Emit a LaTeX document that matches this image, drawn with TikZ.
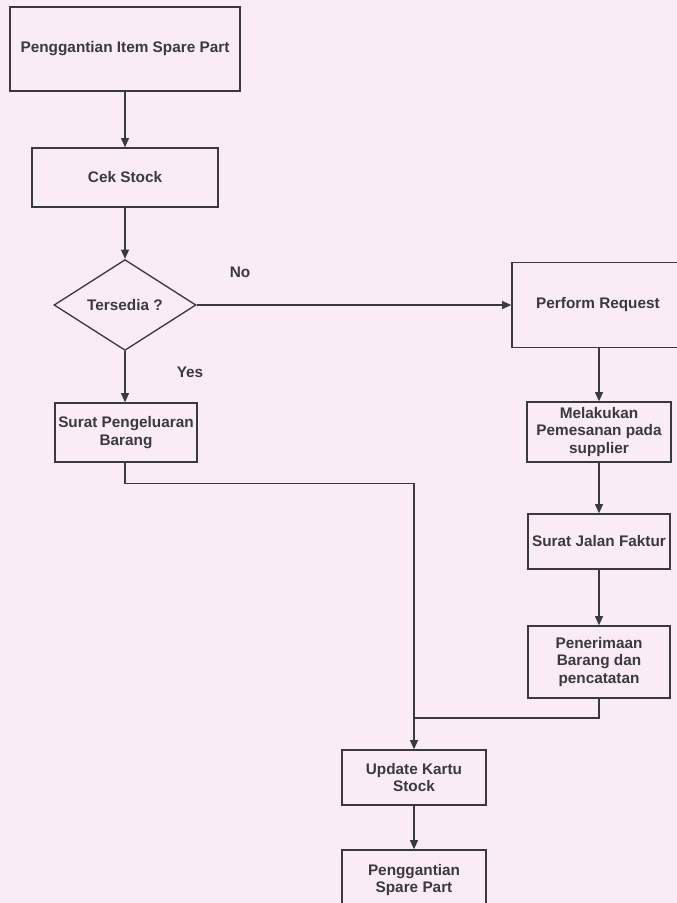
\documentclass[tikz,border=0pt]{standalone}
\usepackage{fontspec}
\setmainfont{Liberation Sans}
\usetikzlibrary{shapes.geometric,arrows.meta}

\definecolor{paper}{RGB}{250,236,247}
\definecolor{ink}{RGB}{58,58,58}

\tikzset{every picture/.style={line width=1pt}}
\tikzset{
  flowbox/.style={draw=ink, rectangle, inner sep=0.75pt, align=center, text=ink,
    font=\fontsize{11.5}{13}\selectfont\bfseries},
  flowlabel/.style={inner sep=0.75pt, text=ink, font=\fontsize{11.5}{13}\selectfont\bfseries},
  flowarrow/.style={draw=ink, -{Triangle[length=7pt,width=6pt]}},
  flowline/.style={draw=ink},
}

\begin{document}
\begin{tikzpicture}[x=0.75pt,y=0.75pt,yscale=-1,xscale=1]
\useasboundingbox (0,0) rectangle (677,903);
\fill[paper] (0,0) rectangle (677,903);
\clip (0,0) rectangle (677,903);

%Shape: Rectangle [id:itemspare]
\node[flowbox, minimum width=172.5pt, minimum height=63pt] (itemspare) at (125,49) {Penggantian Item Spare Part};
%Shape: Rectangle [id:cekstock]
\node[flowbox, minimum width=139.5pt, minimum height=44.25pt] (cekstock) at (125,177.5) {Cek Stock};
%Shape: Diamond [id:tersedia]
\node[flowbox, diamond, minimum width=106.5pt, minimum height=63pt] (tersedia) at (125,305) {Tersedia ?};
%Shape: Rectangle [id:keluar]
\node[flowbox, minimum width=106.5pt, minimum height=44.25pt] (keluar) at (126,432.5) {Surat Pengeluaran\\Barang};
%Shape: Rectangle [id:request]
\node[flowbox, minimum width=129pt, minimum height=63.75pt] (request) at (598,305) {Perform Request};
%Shape: Rectangle [id:pesan]
\node[flowbox, minimum width=108pt, minimum height=45pt] (pesan) at (599,432) {Melakukan\\Pemesanan pada\\supplier};
%Shape: Rectangle [id:faktur]
\node[flowbox, minimum width=106.5pt, minimum height=41.25pt] (faktur) at (599,541.5) {Surat Jalan Faktur};
%Shape: Rectangle [id:terima]
\node[flowbox, minimum width=106.5pt, minimum height=54pt] (terima) at (599,662) {Penerimaan\\Barang dan\\pencatatan};
%Shape: Rectangle [id:update]
\node[flowbox, minimum width=108pt, minimum height=41.25pt] (update) at (414,777.5) {Update Kartu\\Stock};
%Shape: Rectangle [id:gantispare]
\node[flowbox, minimum width=108pt, minimum height=45pt] (gantispare) at (414,880) {Penggantian\\Spare Part};

% Text Node
\node[flowlabel] (no) at (240,272) {No};
% Text Node
\node[flowlabel] (yes) at (190,372) {Yes};

%Straight Lines [id:arrows]
\draw[flowarrow] (itemspare) -- (cekstock);
\draw[flowarrow] (cekstock) -- (tersedia);
\draw[flowarrow] (tersedia) -- (request);
\draw[flowarrow] (tersedia.south) -- (tersedia.south |- keluar.north);
\draw[flowarrow] (request.south -| pesan.north) -- (pesan.north);
\draw[flowarrow] (pesan) -- (faktur);
\draw[flowarrow] (faktur) -- (terima);
\draw[flowarrow] (update) -- (gantispare);

%Straight Lines [id:merge]
\coordinate (merge) at (update.north |- 0,718);
\draw[flowarrow] (tersedia.south |- keluar.south) -- ++(0,21) -| (update.north);
\draw[flowline] (terima.south) |- (merge);

\end{tikzpicture}
\end{document}
